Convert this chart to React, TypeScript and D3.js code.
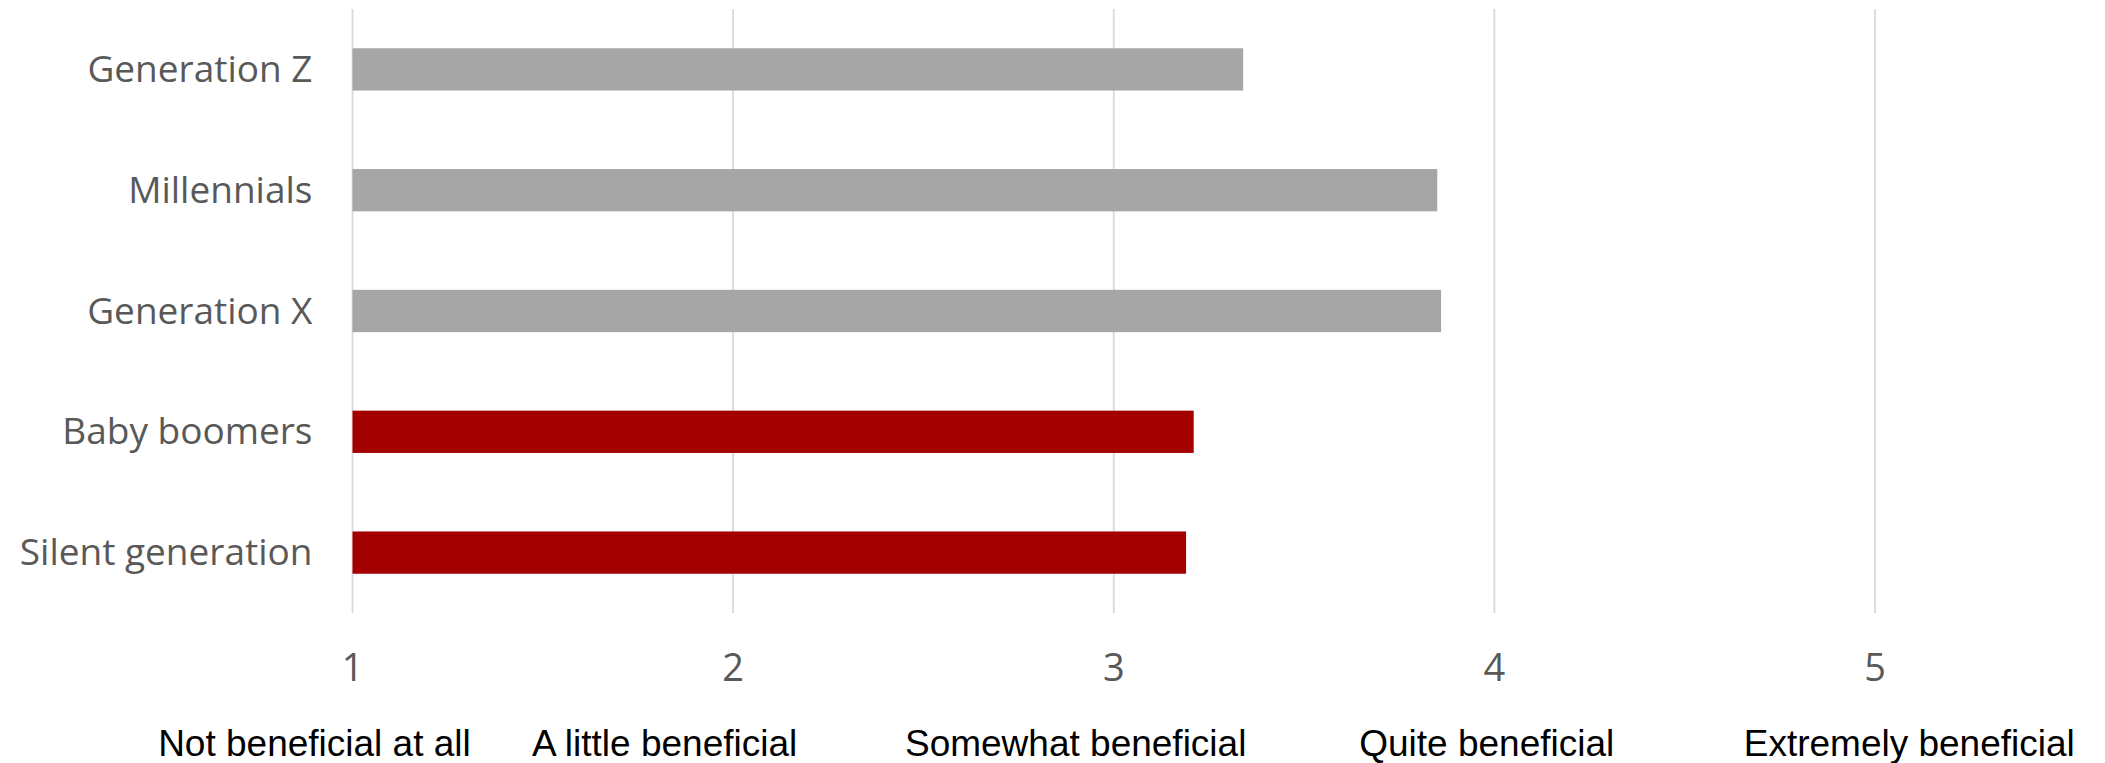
import React from "react";
import * as d3 from "d3";

const generations = ["Generation Z", "Millennials", "Generation X", "Baby boomers", "Silent generation"];
const scores = [3.34, 3.85, 3.86, 3.21, 3.19];
const highlighted = [false, false, false, true, true];
const ticks = [1, 2, 3, 4, 5];
const scaleLabels = [
  "Not beneficial at all",
  "A little beneficial",
  "Somewhat beneficial",
  "Quite beneficial",
  "Extremely beneficial",
];
// the answer labels sit in their own text box, not exactly under the ticks
const scaleLabelNudge = [-0.1, -0.18, -0.1, -0.02, 0.09];

const width = 2105;
const height = 763;
const margin = { top: 9, bottom: 150, left: 352.5, right: 230 };

function App() {
  const innerBottom = height - margin.bottom;

  const xScale = d3
    .scaleLinear()
    .domain([1, 5])
    .range([margin.left, width - margin.right]);

  const yScale = d3
    .scaleBand<string>()
    .domain(generations)
    .range([margin.top, innerBottom])
    .paddingInner(0.65)
    .paddingOuter(0.325);

  return (
    <svg
      width={width}
      height={height}
      style={{ position: "absolute", left: 0, top: 0, background: "#fff" }}
    >
      <g>
        {ticks.map(t => (
          <line
            key={t}
            x1={xScale(t)}
            x2={xScale(t)}
            y1={margin.top}
            y2={innerBottom}
            stroke="#d9d9d9"
            strokeWidth={1.8}
          />
        ))}
      </g>
      <g>
        {generations.map((g, i) => (
          <rect
            key={g}
            x={xScale(1)}
            y={yScale(g)}
            width={xScale(scores[i]) - xScale(1)}
            height={yScale.bandwidth()}
            fill={highlighted[i] ? "#a50000" : "#a6a6a6"}
          />
        ))}
      </g>
      <g fontFamily="'Open Sans', sans-serif" fill="#595959">
        {generations.map(g => (
          <text
            key={g}
            x={xScale(1) - 40}
            y={yScale(g)! + yScale.bandwidth() / 2 - 2}
            textAnchor="end"
            dominantBaseline="central"
            fontSize={37}
          >
            {g}
          </text>
        ))}
        {ticks.map(t => (
          <text key={t} x={xScale(t)} y={681} textAnchor="middle" fontSize={38}>
            {t}
          </text>
        ))}
      </g>
      <g fontFamily="'Liberation Sans', Arial, sans-serif" fill="#000">
        {scaleLabels.map((s, i) => (
          <text
            key={s}
            x={xScale(ticks[i] + scaleLabelNudge[i])}
            y={756}
            textAnchor="middle"
            fontSize={37}
          >
            {s}
          </text>
        ))}
      </g>
    </svg>
  );
}

export default App;
